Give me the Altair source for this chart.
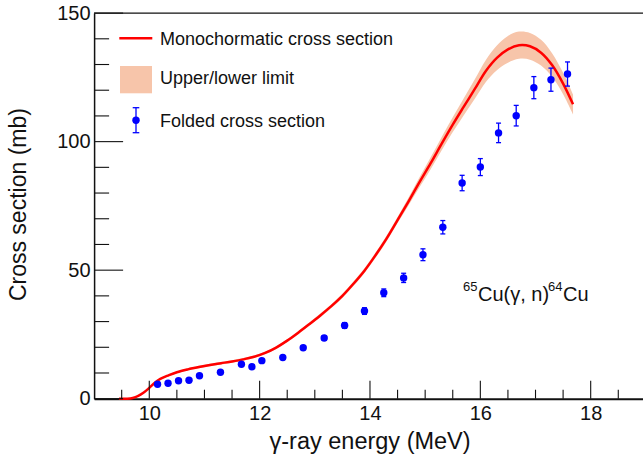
import altair as alt
import pandas as pd

# ---------------- data ----------------
# Monochromatic cross section curve (energy MeV, mb) with upper/lower limits
E_curve = [9.45, 9.6, 9.7, 9.8, 9.9, 10.0, 10.1, 10.2, 10.35, 10.5, 10.7, 10.9, 11.1, 11.3,
           11.5, 11.7, 11.9, 12.1, 12.3, 12.5, 12.7, 12.9, 13.1, 13.3, 13.5, 13.7, 13.9,
           14.1, 14.3, 14.5, 14.7, 14.9, 15.1, 15.3, 15.5, 15.7, 15.9, 16.1, 16.3, 16.5,
           16.7, 16.9, 17.1, 17.3, 17.5, 17.68]
xs_mono = [0.0, 0.0, 0.3, 1.1, 2.4, 4.2, 6.2, 7.7, 9.1, 10.3, 11.4, 12.3, 13.1, 13.8,
           14.5, 15.3, 16.3, 17.8, 19.9, 22.6, 25.7, 29.0, 32.4, 36.0, 40.0, 44.7, 49.8,
           55.8, 62.3, 69.5, 76.8, 84.3, 91.6, 99.2, 106.6, 113.6, 120.5, 127.5, 132.6, 135.9,
           137.5, 137.1, 134.6, 129.8, 122.6, 114.5]
xs_upper = [0.0, 0.0, 0.32, 1.15, 2.5, 4.4, 6.45, 8.0, 9.45, 10.7, 11.85, 12.8, 13.6, 14.3,
            15.0, 15.8, 16.8, 18.3, 20.45, 23.15, 26.3, 29.65, 33.1, 36.75, 40.8, 45.55, 50.7,
            56.8, 63.4, 70.7, 78.3, 86.2, 93.9, 101.8, 109.5, 116.9, 124.3, 131.8, 137.4, 141.1,
            142.8, 142.3, 139.6, 134.4, 126.8, 118.4]
xs_lower = [0.0, 0.0, 0.28, 1.05, 2.3, 4.0, 5.95, 7.4, 8.75, 9.9, 10.95, 11.8, 12.6, 13.3,
            14.0, 14.8, 15.8, 17.3, 19.35, 22.05, 25.1, 28.35, 31.7, 35.25, 39.2, 43.85, 48.9,
            54.8, 61.2, 68.3, 75.3, 82.4, 89.3, 96.6, 103.7, 110.3, 116.7, 123.2, 127.8, 130.7,
            132.2, 131.9, 129.6, 125.2, 118.4, 110.6]

# Folded cross section points
E_pts = [10.15, 10.34, 10.53, 10.72, 10.91, 11.29, 11.67, 11.86, 12.04, 12.42, 12.79, 13.17,
         13.54, 13.90, 14.25, 14.61, 14.96, 15.32, 15.67, 16.00, 16.33, 16.65, 16.97, 17.28, 17.58]
xs_fold = [5.6, 6.0, 7.0, 7.2, 8.9, 10.3, 13.4, 12.4, 14.8, 16.0, 19.8, 23.6,
           28.5, 34.1, 41.2, 47.0, 56.0, 66.7, 83.9, 90.1, 103.4, 110.1, 121.0, 124.1, 126.3]
err_fold = [0.2, 0.2, 0.3, 0.3, 0.3, 0.4, 0.5, 0.5, 0.5, 0.6, 0.7, 0.9,
            1.1, 1.3, 1.5, 1.8, 2.3, 2.6, 3.0, 3.3, 3.8, 4.0, 4.3, 4.5, 4.7]

# axis ticks / labels
x_major = [10, 12, 14, 16, 18]
x_minor = [9.5, 10.5, 11, 11.5, 12.5, 13, 13.5, 14.5, 15, 15.5, 16.5, 17, 17.5, 18.5]
y_major = [0, 50, 100, 150]
y_minor = [10, 20, 30, 40, 60, 70, 80, 90, 110, 120, 130, 140]

legend_labels = ["Monochormatic cross section", "Upper/lower limit", "Folded cross section"]

# annotation pieces: 65Cu(γ, n)64Cu
ann_main_text = ["Cu(γ, n)", "Cu"]
ann_main_x = [15.958, 17.498]
ann_main_y = [38.1, 38.1]
ann_sup_text = ["65", "64"]
ann_sup_x = [15.686, 17.226]
ann_sup_y = [42.0, 42.0]

# ---------------- layout ----------------
W = 548.9
H = 385.6
XMIN, XMAX = 9.0, 18.948
YMIN, YMAX = 0.0, 150.0
FONT = "Liberation Sans"
RED = "#ff0000"
BLUE = "#0000ff"
BAND = "#f7c5aa"
BLACK = "#111111"

xsc = alt.Scale(domain=[XMIN, XMAX], nice=False, zero=False)
ysc = alt.Scale(domain=[YMIN, YMAX], nice=False, zero=False)

curve_df = pd.DataFrame({"E": E_curve, "mono": xs_mono, "up": xs_upper, "lo": xs_lower})
pts_df = pd.DataFrame({"E": E_pts, "v": xs_fold, "err": err_fold})
pts_df["lo"] = pts_df["v"] - pts_df["err"]
pts_df["hi"] = pts_df["v"] + pts_df["err"]

x_axis = alt.Axis(values=x_major, ticks=False, tickSize=0, grid=False,
                  domainColor=BLACK, domainWidth=2,
                  labelFont=FONT, labelFontSize=20, labelColor=BLACK,
                  labelBaseline="alphabetic", labelPadding=21, labelFlush=False,
                  labelOverlap=False, format="d",
                  title="γ-ray energy (MeV)", titleFont=FONT, titleFontSize=23.5,
                  titleFontWeight="normal", titleColor=BLACK,
                  titleBaseline="alphabetic", titleAlign="center",
                  titleX=W / 2 + 1, titleY=49.5)
y_axis = alt.Axis(values=y_major, ticks=False, tickSize=0, grid=False,
                  domainColor=BLACK, domainWidth=1.5,
                  labelFont=FONT, labelFontSize=20, labelColor=BLACK,
                  labelAlign="right", labelBaseline="middle", labelPadding=4,
                  labelFlush=False, labelOverlap=False, format="d",
                  title="Cross section (mb)", titleFont=FONT, titleFontSize=23,
                  titleFontWeight="normal", titleColor=BLACK, titleAngle=270,
                  titleBaseline="alphabetic", titleAlign="center",
                  titleX=-69, titleY=191)


def X(field):
    return alt.X(field, scale=xsc, axis=x_axis)


def Y(field):
    return alt.Y(field, scale=ysc, axis=y_axis)


INTERP = "catmull-rom"

band = alt.Chart(curve_df).mark_area(color=BAND, opacity=1, interpolate=INTERP).encode(
    x=X("E:Q"), y=Y("lo:Q"), y2="up:Q")
line = alt.Chart(curve_df).mark_line(color=RED, strokeWidth=2.5, interpolate=INTERP).encode(
    x=X("E:Q"), y=Y("mono:Q"))
ebar = alt.Chart(pts_df).mark_rule(color=BLUE, strokeWidth=1.3).encode(
    x=X("E:Q"), y=Y("lo:Q"), y2="hi:Q")
cap_lo = alt.Chart(pts_df).mark_tick(color=BLUE, orient="horizontal", size=5, thickness=1.3, opacity=1).encode(
    x=X("E:Q"), y=Y("lo:Q"))
cap_hi = alt.Chart(pts_df).mark_tick(color=BLUE, orient="horizontal", size=5, thickness=1.3, opacity=1).encode(
    x=X("E:Q"), y=Y("hi:Q"))
pts = alt.Chart(pts_df).mark_circle(color=BLUE, size=55, opacity=1).encode(
    x=X("E:Q"), y=Y("v:Q"))

dummy = pd.DataFrame({"d": [0]})


# inward ticks (axis decoration, placed at the axis tick values)
def xticks(vals, length):
    return alt.Chart(pd.DataFrame({"t": vals})).mark_rule(color=BLACK, strokeWidth=1.1).encode(
        x=X("t:Q"), y=alt.value(H), y2=alt.value(H - length))


def yticks(vals, length):
    layers = []
    for t in vals:
        py = H * (YMAX - t) / (YMAX - YMIN)
        layers.append(alt.Chart(dummy).mark_rule(color=BLACK, strokeWidth=1.1).encode(
            x=alt.value(0), x2=alt.value(length), y=alt.value(py)))
    return layers


top_frame = alt.Chart(dummy).mark_rule(color=BLACK, strokeWidth=1.3).encode(
    x=alt.value(0), x2=alt.value(W), y=alt.value(0))

# legend (manual)
leg_line = alt.Chart(dummy).mark_rule(color=RED, strokeWidth=2.5).encode(
    x=alt.value(25.2), x2=alt.value(58.2), y=alt.value(25.2))
leg_rect = alt.Chart(dummy).mark_rect(color=BAND).encode(
    x=alt.value(25.9), x2=alt.value(57.9), y=alt.value(52.9), y2=alt.value(80.2))
leg_eb = alt.Chart(dummy).mark_rule(color=BLUE, strokeWidth=1.3).encode(
    x=alt.value(41.9), y=alt.value(94.6), y2=alt.value(119.6))
leg_c1 = alt.Chart(dummy).mark_rule(color=BLUE, strokeWidth=1.3).encode(
    x=alt.value(38.6), x2=alt.value(45.2), y=alt.value(94.6))
leg_c2 = alt.Chart(dummy).mark_rule(color=BLUE, strokeWidth=1.3).encode(
    x=alt.value(38.6), x2=alt.value(45.2), y=alt.value(119.6))
leg_pt = alt.Chart(dummy).mark_circle(color=BLUE, size=55, opacity=1).encode(
    x=alt.value(41.9), y=alt.value(107.2))
leg_texts = []
for lab, yy in zip(legend_labels, [31.9, 71.2, 113.6]):
    leg_texts.append(alt.Chart(dummy).mark_text(
        font=FONT, fontSize=18, color=BLACK, align="left", baseline="alphabetic").encode(
        x=alt.value(65.9), y=alt.value(yy), text=alt.value(lab)))

ann_main = alt.Chart(pd.DataFrame({"x": ann_main_x, "y": ann_main_y, "t": ann_main_text})).mark_text(
    font=FONT, fontSize=20, color=BLACK, align="left", baseline="alphabetic").encode(
    x=X("x:Q"), y=Y("y:Q"), text="t:N")
ann_sup = alt.Chart(pd.DataFrame({"x": ann_sup_x, "y": ann_sup_y, "t": ann_sup_text})).mark_text(
    font=FONT, fontSize=13, color=BLACK, align="left", baseline="alphabetic").encode(
    x=X("x:Q"), y=Y("y:Q"), text="t:N")

chart = alt.layer(
    band, line, ebar, cap_lo, cap_hi, pts,
    xticks(x_major, 18), xticks(x_minor, 9), *yticks(y_major, 29), *yticks(y_minor, 15),
    top_frame, leg_line, leg_rect, leg_eb, leg_c1, leg_c2, leg_pt, *leg_texts,
    ann_main, ann_sup,
).properties(
    width=W, height=H,
    autosize=alt.AutoSizeParams(type="none"),
    padding={"left": 94.1, "top": 13.1, "right": 0, "bottom": 60.3},
    background="white",
).configure_view(stroke=None)

chart.save("out.html", embed_options={"renderer": "svg", "actions": False})
